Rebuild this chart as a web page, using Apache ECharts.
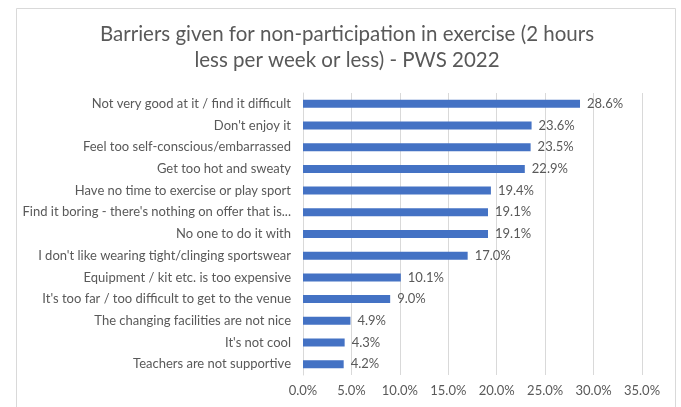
<!DOCTYPE html>
<html>
<head>
<meta charset="utf-8">
<title>PWS 2022</title>
<script src="https://cdn.jsdelivr.net/npm/echarts@6/dist/echarts.min.js"></script>
<style>
html, body { margin: 0; padding: 0; background: #fff; }
#main { width: 681px; height: 407px; }
</style>
</head>
<body>
<div id="main"></div>
<script>
// barriers, top to bottom as shown
var categories = [
    "Not very good at it / find it difficult",
    "Don't enjoy it",
    "Feel too self-conscious/embarrassed",
    "Get too hot and sweaty",
    "Have no time to exercise or play sport",
    "Find it boring - there's nothing on offer that is...",
    "No one to do it with",
    "I don't like wearing tight/clinging sportswear",
    "Equipment / kit etc. is too expensive",
    "It's too far / too difficult to get to the venue",
    "The changing facilities are not nice",
    "It's not cool",
    "Teachers are not supportive"
];
var values = [28.6, 23.6, 23.5, 22.9, 19.4, 19.1, 19.1, 17.0, 10.1, 9.0, 4.9, 4.3, 4.2];
var tickLabels = ['0.0%', '5.0%', '10.0%', '15.0%', '20.0%', '25.0%', '30.0%', '35.0%'];

var font = 'Lato';
var grey = '#595959';

var myChart = echarts.init(document.getElementById('main'));

var option = {
    animation: false,
    backgroundColor: '#fff',
    title: {
        text: 'Barriers given for non-participation in exercise (2 hours\nless per week or less) - PWS 2022',
        left: 342,
        textAlign: 'center',
        top: 16,
        textStyle: {
            fontFamily: font,
            fontSize: 20.5,
            fontWeight: 'normal',
            color: grey,
            lineHeight: 26
        }
    },
    graphic: [{
        type: 'rect',
        shape: { x: 16.5, y: 8.5, width: 659, height: 410 },
        style: { fill: 'none', stroke: '#d9d9d9', lineWidth: 1 },
        silent: true
    }],
    grid: { left: 303, right: 39, top: 93, bottom: 32 },
    xAxis: {
        type: 'value',
        min: 0,
        max: 35,
        interval: 5,
        axisLine: { show: false },
        axisTick: { show: false },
        splitLine: { lineStyle: { color: '#d9d9d9', width: 1 } },
        axisLabel: {
            fontFamily: font,
            fontSize: 13,
            color: grey,
            margin: 9,
            formatter: function (v) { return tickLabels[Math.round(v / 5)]; }
        }
    },
    yAxis: {
        type: 'category',
        inverse: true,
        data: categories,
        axisLine: { show: true, lineStyle: { color: '#d9d9d9' } },
        axisTick: { show: false },
        axisLabel: {
            fontFamily: font,
            fontSize: 13,
            color: grey,
            margin: 12
        }
    },
    series: [{
        type: 'bar',
        data: values,
        barWidth: 8,
        itemStyle: { color: '#4472c4' },
        label: {
            show: true,
            position: 'right',
            distance: 7,
            fontFamily: font,
            fontSize: 13,
            color: grey,
            formatter: function (p) { return p.value.toFixed(1) + '%'; }
        }
    }]
};

myChart.setOption(option);
</script>
</body>
</html>
